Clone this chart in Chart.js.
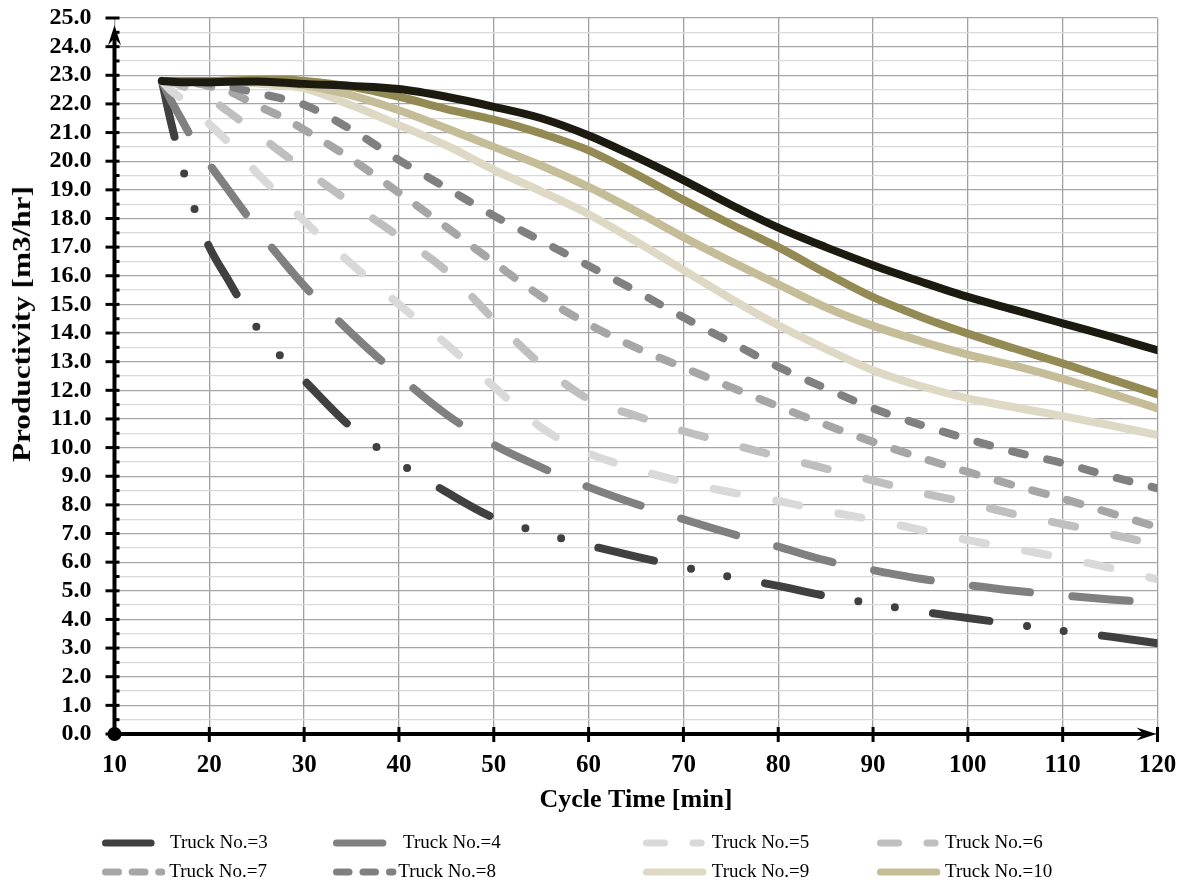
<!DOCTYPE html>
<html>
<head>
<meta charset="utf-8">
<script src="https://cdn.jsdelivr.net/npm/chart.js@4.4.0/dist/chart.umd.min.js"></script>
<style>
  html, body { margin: 0; padding: 0; background: #ffffff; }
  #wrap { position: relative; width: 1189px; height: 884px; overflow: hidden; }
  #c { position: absolute; left: 0; top: 0; }
  .lgtext { position: absolute; font-family: "Liberation Serif", "Times New Roman", serif; font-size: 19px; line-height: 20px; color: #000; white-space: nowrap; }
  .lgsvg { position: absolute; overflow: visible; }
  #ytitle { position: absolute; font-family: "Liberation Serif", "Times New Roman", serif; font-weight: bold; font-size: 26px; line-height: 28px; color: #000; white-space: nowrap; }
</style>
</head>
<body>
<div id="wrap">
  <canvas id="c" width="1189" height="884"></canvas>
  <div id="ytitle">Productivity [m3/hr]</div>
</div>
<script>
// ---------------- DATA ----------------
const cycleTime = [15, 16, 17, 18, 19, 20, 22, 25, 27.5, 30, 35, 40, 45, 50, 55, 60, 65, 70, 75, 80, 85, 90, 95, 100, 105, 110, 115, 120];

const truck3  = [22.8, 21.3, 20.0, 18.8, 17.8, 17.0, 15.85, 14.2, 13.2, 12.35, 10.7, 9.48, 8.45, 7.55, 7.03, 6.59, 6.19, 5.83, 5.48, 5.17, 4.82, 4.55, 4.28, 4.05, 3.83, 3.6, 3.4, 3.17];
const truck4  = [22.8, 22.1, 21.5, 20.9, 20.4, 19.9, 19.0, 17.65, 16.62, 15.65, 13.99, 12.5, 11.16, 10.1, 9.31, 8.62, 8.03, 7.5, 7.0, 6.54, 6.06, 5.72, 5.42, 5.2, 5.0, 4.84, 4.7, 4.58];
const truck5  = [22.8, 22.45, 22.2, 21.9, 21.6, 21.3, 20.66, 19.6, 18.77, 17.92, 16.41, 15.0, 13.62, 12.13, 10.7, 9.8, 9.25, 8.8, 8.44, 8.14, 7.78, 7.48, 7.13, 6.77, 6.47, 6.15, 5.8, 5.4];
const truck6  = [22.8, 22.75, 22.65, 22.5, 22.35, 22.2, 21.73, 20.97, 20.33, 19.73, 18.52, 17.37, 16.17, 14.47, 12.9, 11.69, 11.11, 10.58, 10.13, 9.69, 9.27, 8.85, 8.43, 8.07, 7.67, 7.33, 6.98, 6.6];
const truck7  = [22.8, 22.8, 22.78, 22.75, 22.7, 22.62, 22.45, 21.95, 21.57, 21.1, 20.07, 18.9, 17.7, 16.47, 15.28, 14.31, 13.49, 12.8, 12.11, 11.44, 10.8, 10.2, 9.65, 9.15, 8.67, 8.22, 7.72, 7.22];
const truck8  = [22.8, 22.8, 22.8, 22.8, 22.77, 22.72, 22.62, 22.38, 22.2, 21.97, 21.1, 20.04, 19.07, 18.1, 17.22, 16.35, 15.47, 14.55, 13.68, 12.82, 12.07, 11.37, 10.8, 10.3, 9.84, 9.46, 9.0, 8.58];
const truck9  = [22.8, 22.8, 22.8, 22.8, 22.8, 22.8, 22.79, 22.72, 22.65, 22.54, 21.95, 21.26, 20.55, 19.7, 18.95, 18.15, 17.2, 16.2, 15.2, 14.27, 13.45, 12.7, 12.15, 11.72, 11.4, 11.1, 10.78, 10.44];
const truck10 = [22.8, 22.8, 22.8, 22.8, 22.8, 22.8, 22.8, 22.78, 22.73, 22.65, 22.3, 21.78, 21.15, 20.5, 19.85, 19.1, 18.25, 17.35, 16.5, 15.7, 14.9, 14.25, 13.72, 13.25, 12.85, 12.4, 11.9, 11.37];
const truck11 = [22.8, 22.8, 22.8, 22.8, 22.8, 22.8, 22.82, 22.84, 22.85, 22.8, 22.6, 22.25, 21.82, 21.45, 20.97, 20.38, 19.55, 18.65, 17.8, 17.0, 16.1, 15.25, 14.57, 13.98, 13.45, 12.94, 12.4, 11.86];
const truck12 = [22.8, 22.77, 22.76, 22.76, 22.76, 22.76, 22.77, 22.78, 22.75, 22.7, 22.63, 22.52, 22.25, 21.9, 21.5, 20.9, 20.15, 19.34, 18.48, 17.68, 17.0, 16.37, 15.8, 15.26, 14.8, 14.34, 13.88, 13.4];

const seriesLabels = ['Truck No.=3', 'Truck No.=4', 'Truck No.=5', 'Truck No.=6', 'Truck No.=7', 'Truck No.=8', 'Truck No.=9', 'Truck No.=10', 'Truck No.=11', 'Truck No.=12'];
const seriesValues = [truck3, truck4, truck5, truck6, truck7, truck8, truck9, truck10, truck11, truck12];

const xTitle = 'Cycle Time [min]';
const yTitle = 'Productivity [m3/hr]';

// ---------------- STYLES ----------------
const seriesColors = ['#404040', '#808080', '#d9d9d9', '#bfbfbf', '#a6a6a6', '#808080', '#ddd9c4', '#c4bd97', '#948a54', '#1d1b10'];
const seriesDash = [
  [57, 38, 0, 37, 0, 38.5],
  [57.5, 42.5],
  [23.5, 40],
  [23.5, 40],
  [14, 22],
  [13, 23],
  [], [], [], []
];
const seriesOrder = [11, 10, 9, 8, 7, 6, 3, 2, 1, 0];
const inLegend = [true, true, true, true, true, true, true, true, false, false];

// legend layout (pixel placement of legend entries)
const legendLayout = [
  { x: 101.7, w: 52.6, y: 843, tx: 170,   dash: '' },
  { x: 333.3, w: 53.4, y: 843, tx: 403,   dash: '' },
  { x: 643.3, w: 61.7, y: 843, tx: 711.7, dash: '18 28.5' },
  { x: 876.7, w: 61.6, y: 843, tx: 945,   dash: '18 28.5' },
  { x: 101.7, w: 63.3, y: 872, tx: 169.3, dash: '13 13.6' },
  { x: 333.3, w: 63.4, y: 872, tx: 398.3, dash: '12.5 14' },
  { x: 643.3, w: 63.4, y: 872, tx: 711.7, dash: '' },
  { x: 876.7, w: 63.3, y: 872, tx: 945,   dash: '' }
];

const serif = "'Liberation Serif', 'Times New Roman', serif";

const datasets = seriesValues.map((vals, i) => ({
  label: seriesLabels[i],
  data: cycleTime.map((t, k) => ({ x: t, y: vals[k] })),
  borderColor: seriesColors[i],
  backgroundColor: seriesColors[i],
  borderWidth: 8,
  borderDash: seriesDash[i],
  borderCapStyle: 'round',
  borderJoinStyle: 'round',
  pointRadius: 0,
  pointHoverRadius: 0,
  fill: false,
  cubicInterpolationMode: 'monotone',
  order: seriesOrder[i]
}));

const isMajor = v => Math.abs(v - Math.round(v)) < 1e-6;

const axisDecor = {
  id: 'axisDecor',
  afterDraw(chart) {
    const { ctx, scales: { x, y } } = chart;
    const x0 = x.getPixelForValue(x.min);
    const y0 = y.getPixelForValue(y.min);
    const xEnd = x.getPixelForValue(x.max);
    const yTip = y.getPixelForValue(24.75);
    ctx.save();
    ctx.strokeStyle = '#000';
    ctx.fillStyle = '#000';
    ctx.lineCap = 'butt';
    ctx.lineWidth = 4;
    ctx.beginPath(); ctx.moveTo(x0, y0); ctx.lineTo(x0, yTip + 10); ctx.stroke();
    ctx.beginPath(); ctx.moveTo(x0, y0); ctx.lineTo(xEnd - 10, y0); ctx.stroke();
    ctx.lineWidth = 3;
    y.ticks.forEach(t => {
      const py = y.getPixelForValue(t.value);
      ctx.beginPath();
      ctx.moveTo(isMajor(t.value) ? x0 - 9 : x0, py);
      ctx.lineTo(x0 + 5, py);
      ctx.stroke();
    });
    x.ticks.forEach(t => {
      if (t.value === x.min) return;
      const px = x.getPixelForValue(t.value);
      ctx.beginPath(); ctx.moveTo(px, y0 - 7); ctx.lineTo(px, y0 + 8); ctx.stroke();
    });
    function arrow(tx, ty, dx, dy) {
      const L = 20, W = 6.5, N = 13;
      const nx = -dy, ny = dx;
      ctx.beginPath();
      ctx.moveTo(tx, ty);
      ctx.lineTo(tx - dx * L + nx * W, ty - dy * L + ny * W);
      ctx.lineTo(tx - dx * N, ty - dy * N);
      ctx.lineTo(tx - dx * L - nx * W, ty - dy * L - ny * W);
      ctx.closePath();
      ctx.fill();
    }
    arrow(x0, yTip, 0, -1);
    arrow(xEnd - 1, y0, 1, 0);
    ctx.beginPath(); ctx.arc(x0, y0, 7, 0, Math.PI * 2); ctx.fill();
    ctx.restore();
  }
};

const chart = new Chart(document.getElementById('c'), {
  type: 'line',
  data: { datasets },
  options: {
    responsive: false,
    animation: false,
    events: [],
    layout: { padding: { left: 0, right: 31.5, top: 18, bottom: 0 } },
    plugins: { legend: { display: false }, tooltip: { enabled: false }, title: { display: false } },
    scales: {
      x: {
        type: 'linear', min: 10, max: 120,
        ticks: { stepSize: 10, color: '#000', padding: 17, maxRotation: 0, autoSkip: false,
                 font: { family: serif, weight: 'bold', size: 25 } },
        grid: { color: '#a0a0a0', lineWidth: 1.3, drawTicks: false },
        border: { display: false },
        title: { display: true, text: xTitle, color: '#000',
                 font: { family: serif, weight: 'bold', size: 26 }, padding: { top: 0, bottom: 68 } },
        afterFit: s => { s.height = 150; s.paddingLeft = 0; s.paddingRight = 0; }
      },
      y: {
        type: 'linear', min: 0, max: 25,
        ticks: { stepSize: 0.5, autoSkip: false, color: '#000', padding: 23,
                 font: { family: serif, weight: 'bold', size: 24 },
                 callback: v => isMajor(v) ? Number(v).toFixed(1) : '' },
        grid: { color: c => isMajor(c.tick.value) ? '#a6a6a6' : '#d9d9d9', lineWidth: 1.3, drawTicks: false },
        border: { display: false },
        afterFit: s => { s.width = 114.5; s.paddingTop = 0; s.paddingBottom = 0; }
      }
    }
  },
  plugins: [axisDecor]
});

// ---------------- HTML legend ----------------
const wrap = document.getElementById('wrap');
let li = 0;
seriesLabels.forEach((lab, i) => {
  if (!inLegend[i]) return;
  const L = legendLayout[li++];
  const svgNS = 'http://www.w3.org/2000/svg';
  const svg = document.createElementNS(svgNS, 'svg');
  svg.setAttribute('class', 'lgsvg');
  svg.setAttribute('width', L.w + 10);
  svg.setAttribute('height', 14);
  svg.style.left = (L.x - 5) + 'px';
  svg.style.top = (L.y - 7) + 'px';
  const ln = document.createElementNS(svgNS, 'line');
  ln.setAttribute('x1', 5 + 3.5); ln.setAttribute('y1', 7);
  ln.setAttribute('x2', 5 + L.w - 3.5); ln.setAttribute('y2', 7);
  ln.setAttribute('stroke', seriesColors[i]);
  ln.setAttribute('stroke-width', 7);
  ln.setAttribute('stroke-linecap', 'round');
  if (L.dash) ln.setAttribute('stroke-dasharray', L.dash);
  svg.appendChild(ln);
  wrap.appendChild(svg);
  const t = document.createElement('div');
  t.className = 'lgtext';
  t.textContent = lab;
  t.style.left = L.tx + 'px';
  t.style.top = (L.y - 11.5) + 'px';
  wrap.appendChild(t);
});

// ---------------- Y title ----------------
const yt = document.getElementById('ytitle');
yt.textContent = yTitle;
const w = yt.offsetWidth, h = yt.offsetHeight;
yt.style.left = (22 - w / 2) + 'px';
yt.style.top = (324 - h / 2) + 'px';
yt.style.transform = 'rotate(-90deg) scaleX(1.2)';
</script>
</body>
</html>
